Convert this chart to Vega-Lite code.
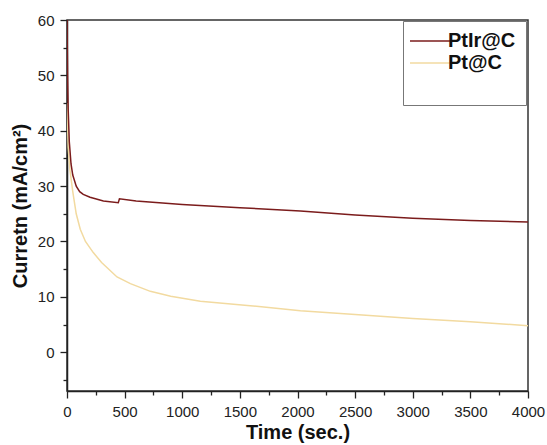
{
  "$schema": "https://vega.github.io/schema/vega-lite/v6.json",
  "width": 461,
  "height": 371,
  "autosize": {"type": "none"},
  "padding": {"left": 67, "top": 20, "right": 19, "bottom": 54},
  "background": "white",
  "config": {
    "font": "Liberation Sans",
    "view": {"stroke": "#333", "strokeWidth": 1.5},
    "axis": {"domainColor": "#222", "domainWidth": 1.5, "tickColor": "#222", "tickWidth": 1.3, "labelFontSize": 15, "labelColor": "#222", "titleFontSize": 20, "titleFontWeight": "bold", "titleColor": "#111", "grid": false}
  },
  "data": {"values": [
    {"t": 0, "v": 45, "s": "Pt@C"},
    {"t": 10, "v": 37, "s": "Pt@C"},
    {"t": 25, "v": 33, "s": "Pt@C"},
    {"t": 50, "v": 29, "s": "Pt@C"},
    {"t": 80, "v": 25, "s": "Pt@C"},
    {"t": 115, "v": 22.2, "s": "Pt@C"},
    {"t": 160, "v": 20, "s": "Pt@C"},
    {"t": 228, "v": 18, "s": "Pt@C"},
    {"t": 300, "v": 16.2, "s": "Pt@C"},
    {"t": 434, "v": 13.6, "s": "Pt@C"},
    {"t": 550, "v": 12.4, "s": "Pt@C"},
    {"t": 723, "v": 11, "s": "Pt@C"},
    {"t": 900, "v": 10.1, "s": "Pt@C"},
    {"t": 1157, "v": 9.2, "s": "Pt@C"},
    {"t": 1590, "v": 8.4, "s": "Pt@C"},
    {"t": 2025, "v": 7.5, "s": "Pt@C"},
    {"t": 2500, "v": 6.8, "s": "Pt@C"},
    {"t": 3000, "v": 6.1, "s": "Pt@C"},
    {"t": 3500, "v": 5.5, "s": "Pt@C"},
    {"t": 4000, "v": 4.8, "s": "Pt@C"},
    {"t": 0, "v": 60, "s": "PtIr@C"},
    {"t": 5, "v": 50, "s": "PtIr@C"},
    {"t": 10, "v": 44, "s": "PtIr@C"},
    {"t": 20, "v": 38, "s": "PtIr@C"},
    {"t": 35, "v": 34, "s": "PtIr@C"},
    {"t": 50, "v": 32, "s": "PtIr@C"},
    {"t": 80, "v": 30, "s": "PtIr@C"},
    {"t": 110, "v": 29, "s": "PtIr@C"},
    {"t": 141, "v": 28.5, "s": "PtIr@C"},
    {"t": 200, "v": 28, "s": "PtIr@C"},
    {"t": 316, "v": 27.3, "s": "PtIr@C"},
    {"t": 445, "v": 27.0, "s": "PtIr@C"},
    {"t": 455, "v": 27.7, "s": "PtIr@C"},
    {"t": 600, "v": 27.3, "s": "PtIr@C"},
    {"t": 1000, "v": 26.7, "s": "PtIr@C"},
    {"t": 1500, "v": 26.1, "s": "PtIr@C"},
    {"t": 2025, "v": 25.5, "s": "PtIr@C"},
    {"t": 2500, "v": 24.8, "s": "PtIr@C"},
    {"t": 3000, "v": 24.2, "s": "PtIr@C"},
    {"t": 3500, "v": 23.8, "s": "PtIr@C"},
    {"t": 4000, "v": 23.5, "s": "PtIr@C"}
  ]},
  "mark": {"type": "line", "strokeWidth": 1.5, "clip": true},
  "encoding": {
    "x": {"field": "t", "type": "quantitative", "title": "Time (sec.)",
      "scale": {"domain": [0, 4000], "nice": false, "zero": false},
      "axis": {"values": [0, 250, 500, 750, 1000, 1250, 1500, 1750, 2000, 2250, 2500, 2750, 3000, 3250, 3500, 3750, 4000],
        "format": "d",
        "labelExpr": "datum.value % 500 === 0 ? datum.label : ''",
        "tickSize": {"condition": {"test": "datum.value % 500 === 0", "value": 7}, "value": 4},
        "labelPadding": 6, "titlePadding": 3, "labelFlush": false}},
    "y": {"field": "v", "type": "quantitative", "title": "Curretn (mA/cm²)",
      "scale": {"domain": [-7, 60], "nice": false, "zero": false},
      "axis": {"values": [-5, 0, 5, 10, 15, 20, 25, 30, 35, 40, 45, 50, 55, 60],
        "labelExpr": "datum.value % 10 === 0 ? datum.label : ''",
        "tickSize": {"condition": {"test": "datum.value % 10 === 0", "value": 7}, "value": 4},
        "labelPadding": 6, "titlePadding": 7, "labelFlush": false}},
    "color": {"field": "s", "type": "nominal",
      "scale": {"domain": ["PtIr@C", "Pt@C"], "range": ["#7b1c1c", "#f2daa0"]},
      "legend": {"orient": "none", "legendX": 336, "legendY": 1, "title": " ", "titleOrient": "bottom", "titleFontSize": 18, "titlePadding": 4,
        "symbolType": "M-2.6,0H5.4", "symbolSize": 100, "symbolStrokeWidth": 1.5,
        "labelFontSize": 20, "labelFontWeight": "bold", "labelColor": "#111",
        "strokeColor": "#777", "fillColor": "white", "padding": 10, "rowPadding": 2, "labelOffset": 15}}
  }
}
